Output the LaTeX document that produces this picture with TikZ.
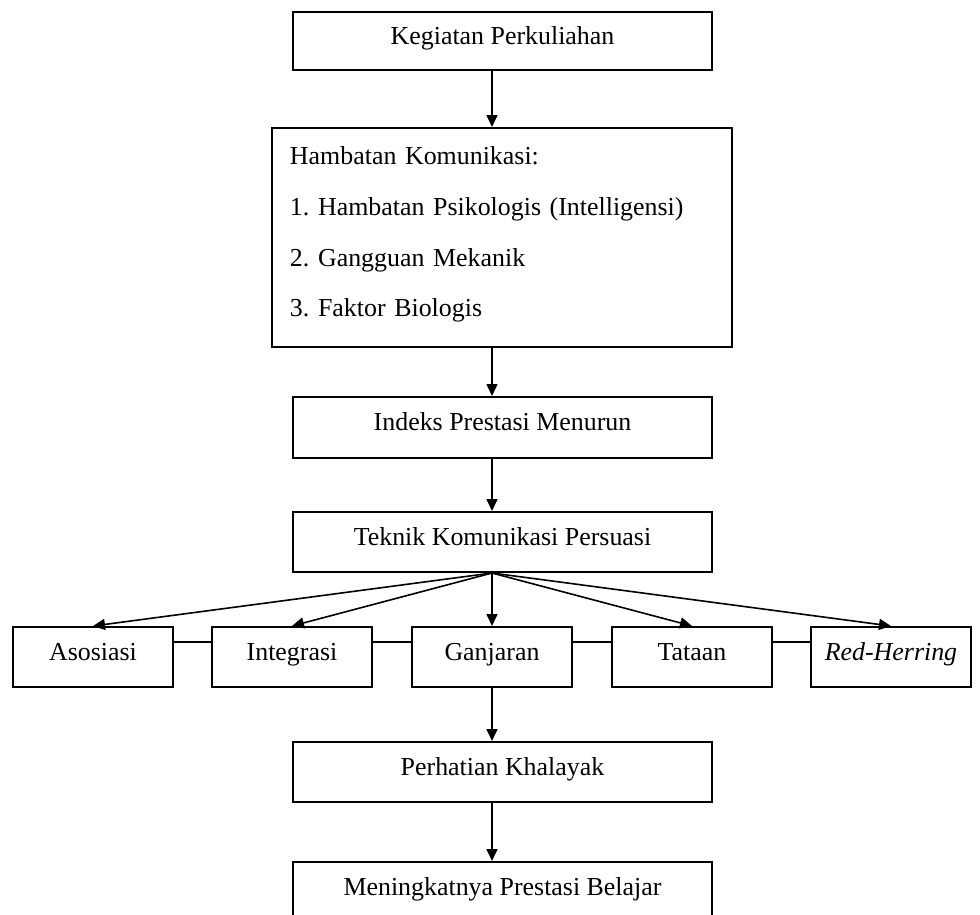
\documentclass[tikz,border=0pt]{standalone}
\usepackage{fontspec}
\setmainfont{Liberation Serif}
\frenchspacing
\usepackage{tikz}
\usetikzlibrary{arrows.meta}
\usetikzlibrary{calc}
\tikzset{
    kotak/.style={draw, line width=1bp, rectangle, inner sep=0pt, minimum width=209.5bp, minimum height=30bp, font=\fontsize{13}{15}\selectfont},
    satu/.style={kotak, text height=6bp, text depth=3bp},
    kecil/.style={satu, minimum width=80bp},
    panah/.style={line width=0.8bp, -{Triangle[width=5.5bp,length=6bp]}}
}

\begin{document}
\begin{tikzpicture}[x=0.5bp, y=-0.5bp]
\useasboundingbox (0,0) rectangle (980,915);
\node[satu, minimum height=29bp] (kp) at (502.5,41) {Kegiatan Perkuliahan};
\node[kotak, minimum width=0pt, minimum height=109.5bp, text width=212bp, inner xsep=9bp, inner ysep=0pt, align=left, font=\fontsize{13}{25.5}\selectfont] (hk) at (502,237.5) {Hambatan Komunikasi:\\1. Hambatan Psikologis (Intelligensi)\\2. Gangguan Mekanik\\3. Faktor Biologis\vspace{3bp}};
\node[satu, minimum height=30.5bp] (ip) at (502.5,427.5) {Indeks Prestasi Menurun};
\node[satu] (tk) at (502.5,542) {Teknik Komunikasi Persuasi};
\foreach \x/\p/\teks in {93/aso/Asosiasi, 292/int/Integrasi, 492/gj/Ganjaran, 692/tt/Tataan, 891/rh/{\textit{Red-Herring}}}{
\node[kecil] (\p) at (\x,657) {\teks};
}
\node[satu] (ph) at (502.5,772) {Perhatian Khalayak};
\node[satu] (mp) at (502.5,892) {Meningkatnya Prestasi Belajar};
\foreach \a/\b in {kp/hk, hk/ip, ip/tk, gj/ph, ph/mp}{
\draw[panah] (\a.south -| gj) -- (\b.north -| gj);
}
\foreach \p in {aso, int, gj, tt, rh}{
\draw[panah] (tk.south -| gj) -- (\p.north);
}
\foreach \a/\b in {aso/int, int/gj, gj/tt, tt/rh}{
\draw[line width=0.8bp] ([yshift=7.5bp]\a.east) -- ([yshift=7.5bp]\b.west);
}
\end{tikzpicture}
\end{document}
